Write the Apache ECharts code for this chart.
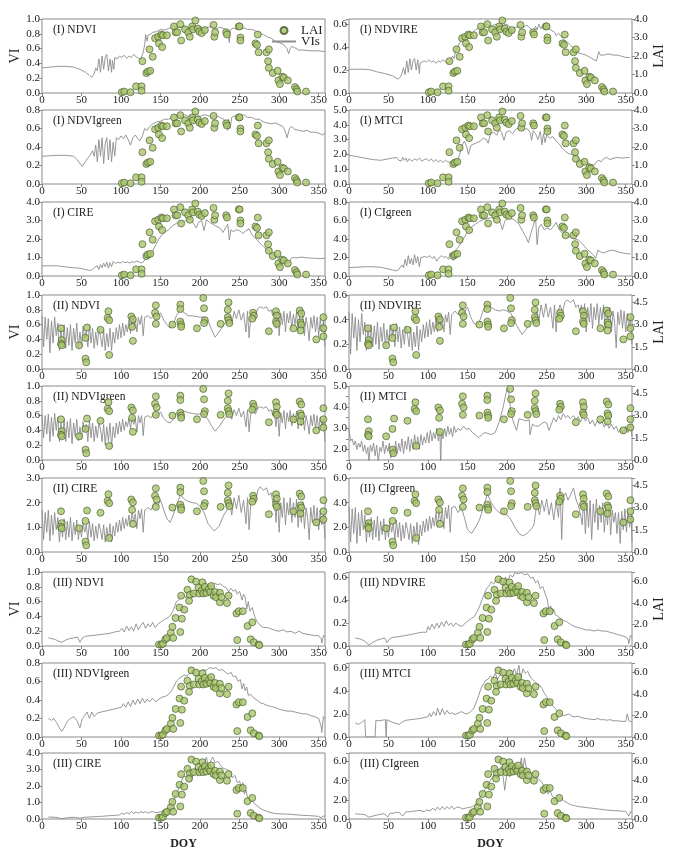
<!DOCTYPE html>
<html><head><meta charset="utf-8">
<script src="https://cdn.jsdelivr.net/npm/echarts@6/dist/echarts.min.js"></script>
<style>html,body{margin:0;padding:0;background:#fff}#c{width:673px;height:851px}</style>
</head><body><div id="c"></div>
<script>
// ---------- tick labels ----------
const doyTicks = [0, 50, 100, 150, 200, 250, 300, 350];

// ---------- LAI observations (site I, II, III) ----------
const LAI_I = [[101,0.04],[104,0.08],[112,0.04],[119,0.36],[126,0.36],[126,0.12],[127,1.72],[132,1.08],[134,1.16],[136,2.36],[137,1.2],[140,1.96],[143,2.96],[147,3.04],[148,2.68],[151,3.16],[153,3.12],[152,2.48],[158,3.12],[167,3.6],[169,3.28],[171,3.28],[175,3.72],[176,2.84],[181,3.44],[185,3.28],[187,3.04],[190,3.6],[191,3.44],[194,3.92],[197,3.48],[199,3.32],[202,3.24],[206,3.4],[217,3.68],[218,3.04],[219,3.28],[233,3.28],[234,3.16],[249,3.6],[250,3.6],[251,3.0],[251,2.84],[273,3.16],[270,2.68],[272,2.6],[274,2.2],[284,2.2],[287,2.36],[286,1.72],[287,1.36],[292,1.08],[298,1.2],[299,0.68],[301,0.48],[304,0.88],[306,0.84],[311,0.68],[320,0.32],[322,0.2],[323,0.08],[334,0.08]];
const LAI_II = [[24,2.75],[25,1.95],[24,1.7],[25,1.6],[47,1.6],[55,2.1],[57,2.8],[55,0.7],[56,0.45],[74,2.65],[84,3.9],[83,3.45],[85,3.3],[85,0.95],[113,3.55],[115,3.35],[114,2.85],[115,1.9],[144,4.3],[143,3.8],[145,3.55],[144,3.05],[165,3.0],[175,4.35],[175,4.05],[175,3.2],[176,3.0],[176,2.85],[196,2.75],[204,4.8],[205,4.1],[206,3.3],[205,3.1],[226,3.05],[236,4.5],[235,4.0],[235,3.5],[236,3.3],[237,3.1],[267,3.8],[268,3.6],[266,3.4],[287,2.55],[296,3.9],[297,3.6],[296,3.2],[297,3.05],[326,3.95],[328,3.75],[327,3.15],[328,3.0],[327,2.6],[318,2.75],[347,2.0],[356,3.5],[356,2.75],[356,2.2]];
const LAI_III = [[148,0.14],[151,0.14],[153,0.21],[156,0.62],[158,0.75],[163,1.23],[166,0.75],[165,1.78],[169,2.6],[175,1.3],[177,2.53],[174,3.56],[180,3.36],[176,4.66],[184,5.21],[187,4.73],[186,4.18],[189,6.17],[192,4.86],[195,5.96],[198,5.41],[199,4.86],[203,5.89],[202,5.14],[204,4.86],[206,5.48],[208,4.93],[211,5.27],[213,5.0],[214,5.55],[217,4.66],[219,5.0],[220,4.52],[225,4.93],[225,4.04],[227,4.52],[236,4.66],[234,3.97],[246,3.01],[249,3.22],[254,3.22],[247,0.55],[260,1.85],[266,2.19],[264,0.62],[268,0.34],[274,0.14],[275,0.07]];

// ---------- VI time series ----------
const I_NDVI = [[0,0.34],[10,0.35],[20,0.36],[30,0.36],[40,0.35],[48,0.32],[55,0.28],[60,0.24],[63,0.21],[66,0.26],[68,0.34],[70,0.30],[72,0.46],[74,0.28],[76,0.50],[78,0.32],[80,0.48],[82,0.52],[84,0.30],[86,0.46],[88,0.28],[89,0.44],[91,0.32],[92,0.48],[95,0.46],[98,0.50],[101,0.48],[104,0.51],[107,0.47],[110,0.50],[113,0.48],[116,0.52],[119,0.49],[122,0.47],[125,0.46],[128,0.55],[130,0.66],[131,0.79],[133,0.70],[134,0.78],[137,0.79],[140,0.82],[145,0.83],[150,0.86],[155,0.85],[160,0.87],[165,0.89],[170,0.90],[175,0.88],[180,0.90],[185,0.87],[190,0.90],[195,0.88],[200,0.90],[205,0.87],[210,0.89],[215,0.90],[220,0.86],[225,0.89],[230,0.87],[234,0.85],[236,0.76],[237,0.68],[238,0.85],[242,0.88],[246,0.86],[250,0.90],[255,0.88],[260,0.86],[265,0.86],[270,0.84],[275,0.81],[280,0.79],[285,0.76],[290,0.74],[295,0.70],[300,0.68],[305,0.66],[310,0.60],[312,0.53],[314,0.60],[316,0.63],[320,0.61],[325,0.58],[330,0.58],[340,0.57],[350,0.57],[358,0.56]];
const I_NDVIgreen = [[0,0.3],[10,0.305],[20,0.31],[30,0.31],[40,0.3],[45,0.26],[48,0.22],[51,0.19],[54,0.23],[57,0.27],[60,0.3],[62,0.28],[64,0.36],[66,0.3],[68,0.42],[70,0.24],[72,0.48],[74,0.3],[76,0.5],[78,0.22],[80,0.44],[82,0.5],[84,0.26],[86,0.48],[88,0.24],[90,0.45],[92,0.3],[94,0.5],[97,0.48],[100,0.52],[103,0.49],[106,0.53],[109,0.48],[112,0.42],[115,0.5],[118,0.53],[121,0.49],[124,0.47],[127,0.52],[130,0.6],[133,0.58],[136,0.62],[140,0.65],[145,0.67],[150,0.68],[155,0.7],[160,0.7],[165,0.72],[170,0.74],[175,0.73],[180,0.75],[185,0.73],[190,0.74],[195,0.75],[200,0.73],[205,0.75],[210,0.74],[215,0.72],[220,0.74],[225,0.72],[230,0.7],[233,0.66],[235,0.58],[236,0.7],[238,0.6],[240,0.72],[245,0.74],[250,0.72],[255,0.75],[260,0.72],[265,0.72],[270,0.7],[275,0.7],[280,0.67],[285,0.66],[290,0.65],[295,0.66],[300,0.64],[305,0.62],[308,0.56],[310,0.5],[313,0.6],[316,0.62],[320,0.59],[325,0.58],[330,0.57],[335,0.58],[340,0.56],[345,0.56],[350,0.55],[355,0.53],[358,0.55]];
const I_CIRE = [[0,0.55],[10,0.55],[20,0.55],[28,0.5],[38,0.45],[48,0.42],[55,0.35],[60,0.3],[63,0.33],[66,0.45],[68,0.38],[70,0.55],[72,0.35],[74,0.62],[76,0.45],[78,0.7],[80,0.5],[82,0.75],[84,0.42],[86,0.72],[88,0.5],[90,0.78],[93,0.68],[96,0.74],[99,0.7],[102,0.78],[105,0.72],[108,0.76],[111,0.7],[114,0.78],[117,0.74],[120,0.8],[123,0.76],[126,0.7],[129,0.8],[131,0.98],[133,0.9],[136,1.1],[140,1.35],[144,1.7],[148,2.0],[151,2.2],[155,2.35],[160,2.5],[165,2.7],[170,2.85],[175,2.9],[180,2.95],[185,3.05],[188,3.1],[192,2.8],[195,2.6],[198,2.9],[202,3.0],[205,2.45],[208,3.05],[212,2.9],[216,2.8],[220,2.7],[225,2.6],[229,2.35],[232,2.6],[235,2.8],[237,1.95],[239,2.5],[242,2.4],[246,2.5],[250,2.45],[254,2.3],[258,2.45],[262,2.55],[266,2.2],[270,2.05],[275,1.8],[280,1.6],[285,1.4],[290,1.2],[295,1.05],[300,0.9],[305,0.88],[308,0.82],[312,0.7],[315,0.95],[318,1.0],[322,0.98],[328,1.02],[335,0.98],[340,0.97],[345,0.96],[350,0.95],[358,0.95]];
const I_NDVIRE = [[0,0.207],[10,0.207],[20,0.207],[28,0.2],[35,0.185],[45,0.17],[55,0.15],[62,0.12],[65,0.14],[67,0.17],[69,0.22],[71,0.16],[73,0.28],[75,0.18],[77,0.3],[79,0.2],[81,0.28],[83,0.3],[85,0.2],[87,0.29],[89,0.17],[90,0.26],[92,0.25],[95,0.28],[98,0.27],[101,0.29],[104,0.27],[107,0.28],[110,0.26],[113,0.28],[116,0.27],[119,0.29],[122,0.27],[125,0.26],[128,0.28],[131,0.32],[133,0.3],[135,0.37],[138,0.41],[141,0.45],[145,0.48],[150,0.5],[155,0.52],[160,0.55],[165,0.57],[170,0.58],[175,0.6],[180,0.58],[185,0.6],[190,0.57],[195,0.59],[200,0.6],[205,0.56],[207,0.52],[209,0.57],[215,0.58],[220,0.57],[225,0.59],[230,0.56],[233,0.53],[236,0.58],[238,0.55],[240,0.6],[243,0.56],[246,0.6],[250,0.57],[255,0.55],[260,0.53],[262,0.5],[265,0.52],[270,0.48],[275,0.45],[280,0.42],[285,0.38],[290,0.35],[295,0.34],[300,0.33],[305,0.31],[310,0.29],[313,0.28],[316,0.36],[318,0.33],[322,0.33],[328,0.34],[335,0.33],[340,0.33],[345,0.32],[350,0.31],[355,0.31]];
const I_MTCI = [[0,1.95],[10,1.85],[20,1.75],[30,1.65],[40,1.6],[48,1.68],[55,1.75],[60,1.8],[63,1.6],[66,1.55],[68,1.8],[70,1.6],[72,1.75],[74,1.5],[76,1.7],[78,1.8],[80,1.55],[83,1.7],[86,1.6],[89,1.75],[92,1.55],[95,1.65],[98,1.7],[101,1.55],[104,1.7],[107,1.5],[110,1.65],[113,1.5],[116,1.6],[119,1.45],[122,1.6],[125,1.5],[128,1.45],[131,1.6],[134,1.4],[137,1.5],[140,2.0],[143,2.6],[146,2.9],[149,2.5],[151,2.0],[154,2.6],[158,2.7],[162,2.8],[166,2.9],[170,3.1],[174,3.0],[176,2.75],[179,3.4],[183,3.5],[187,3.3],[190,3.7],[193,3.5],[196,2.95],[199,3.5],[203,3.6],[207,3.4],[211,3.7],[215,3.8],[220,3.65],[225,3.75],[229,3.5],[231,2.95],[233,3.6],[236,3.4],[239,3.0],[242,3.55],[244,2.65],[246,3.4],[248,2.8],[250,3.3],[254,3.1],[258,3.2],[262,2.9],[266,2.7],[270,2.4],[274,2.2],[278,2.05],[282,2.0],[286,1.9],[290,1.7],[295,1.55],[300,1.45],[305,1.35],[310,1.27],[313,1.5],[316,1.6],[319,1.5],[322,1.7],[326,1.8],[330,1.65],[335,1.75],[340,1.8],[345,1.75],[350,1.78],[355,1.8]];
const I_CIgreen = [[0,0.9],[10,0.95],[20,1.0],[30,1.0],[40,0.95],[48,0.8],[55,0.65],[60,0.55],[63,0.7],[65,0.8],[67,1.2],[69,0.9],[71,1.8],[73,1.1],[75,2.2],[77,1.3],[79,1.9],[81,1.2],[83,2.3],[85,1.4],[87,2.1],[89,1.0],[91,2.0],[93,1.8],[96,2.1],[99,2.0],[102,2.2],[105,1.9],[108,2.1],[111,1.6],[114,2.0],[117,2.2],[120,2.0],[123,2.1],[126,1.8],[128,2.5],[130,2.1],[132,1.7],[135,2.8],[138,3.1],[142,3.6],[146,4.2],[150,4.8],[155,5.3],[160,5.6],[165,5.9],[170,6.1],[175,6.2],[180,6.3],[185,6.2],[189,6.4],[192,5.6],[194,5.0],[197,5.9],[200,6.2],[203,6.5],[206,6.2],[210,6.0],[215,5.6],[220,4.8],[224,4.2],[227,3.6],[230,4.6],[233,5.4],[236,6.3],[238,3.4],[240,5.2],[243,5.6],[247,5.0],[251,5.2],[255,5.0],[259,5.4],[262,5.8],[266,5.0],[270,4.6],[275,4.4],[280,4.2],[285,4.0],[290,3.9],[295,3.5],[300,3.0],[305,2.6],[309,2.3],[312,1.9],[315,2.8],[318,2.6],[322,2.5],[328,2.7],[334,2.8],[340,2.6],[346,2.5],[352,2.4],[356,2.4]];

const II_NDVI = [[0,0.72],[2,0.3],[4,0.7],[6,0.4],[8,0.68],[10,0.22],[12,0.65],[14,0.35],[16,0.7],[18,0.45],[20,0.62],[22,0.25],[24,0.55],[26,0.3],[28,0.6],[30,0.28],[32,0.56],[34,0.32],[36,0.6],[38,0.25],[40,0.55],[42,0.35],[44,0.62],[46,0.28],[48,0.5],[50,0.3],[52,0.58],[54,0.4],[56,0.52],[58,0.3],[60,0.6],[62,0.35],[64,0.55],[66,0.28],[68,0.5],[70,0.32],[72,0.55],[74,0.45],[76,0.3],[78,0.52],[80,0.25],[82,0.48],[84,0.3],[86,0.55],[88,0.25],[90,0.5],[92,0.35],[94,0.56],[96,0.4],[98,0.6],[100,0.42],[102,0.62],[104,0.45],[106,0.6],[108,0.5],[110,0.66],[112,0.48],[114,0.7],[116,0.55],[118,0.68],[120,0.5],[122,0.7],[124,0.6],[126,0.72],[128,0.45],[130,0.7],[134,0.72],[138,0.68],[142,0.75],[146,0.7],[150,0.76],[154,0.66],[158,0.6],[162,0.55],[166,0.6],[170,0.72],[175,0.8],[180,0.76],[185,0.72],[190,0.72],[195,0.71],[200,0.7],[205,0.7],[210,0.65],[215,0.52],[219,0.43],[224,0.5],[230,0.6],[235,0.65],[238,0.72],[240,0.6],[243,0.78],[246,0.68],[249,0.8],[252,0.66],[255,0.76],[258,0.5],[260,0.78],[262,0.42],[264,0.7],[267,0.78],[270,0.72],[273,0.82],[276,0.84],[280,0.82],[284,0.84],[287,0.78],[290,0.8],[292,0.72],[294,0.78],[296,0.55],[298,0.8],[300,0.45],[302,0.76],[304,0.6],[306,0.78],[308,0.5],[310,0.75],[312,0.62],[314,0.78],[316,0.55],[318,0.74],[320,0.6],[322,0.77],[324,0.5],[326,0.72],[328,0.55],[330,0.75],[332,0.45],[334,0.7],[336,0.58],[338,0.38],[340,0.7],[342,0.55],[344,0.72],[346,0.5],[348,0.7],[350,0.45],[352,0.68],[354,0.5],[356,0.65],[358,0.3]];
const II_NDVIgreen = [[0,0.62],[2,0.3],[4,0.6],[6,0.35],[8,0.62],[10,0.25],[12,0.58],[14,0.32],[16,0.63],[18,0.4],[20,0.58],[22,0.25],[24,0.5],[26,0.3],[28,0.55],[30,0.25],[32,0.52],[34,0.3],[36,0.56],[38,0.22],[40,0.5],[42,0.32],[44,0.55],[46,0.26],[48,0.45],[50,0.28],[52,0.52],[54,0.38],[56,0.48],[58,0.25],[60,0.54],[62,0.3],[64,0.5],[66,0.25],[68,0.46],[70,0.3],[72,0.5],[74,0.42],[76,0.25],[78,0.48],[80,0.2],[82,0.45],[84,0.25],[86,0.5],[88,0.18],[90,0.45],[92,0.3],[94,0.5],[96,0.35],[98,0.52],[100,0.38],[102,0.55],[104,0.4],[106,0.52],[108,0.45],[110,0.56],[112,0.42],[114,0.58],[116,0.48],[118,0.56],[120,0.38],[122,0.6],[124,0.5],[126,0.6],[128,0.33],[130,0.58],[134,0.6],[138,0.57],[142,0.63],[146,0.6],[150,0.65],[154,0.56],[158,0.52],[162,0.5],[166,0.55],[170,0.63],[175,0.68],[180,0.66],[185,0.64],[190,0.63],[195,0.62],[200,0.62],[205,0.6],[210,0.55],[215,0.45],[219,0.39],[224,0.45],[230,0.55],[235,0.6],[238,0.65],[240,0.55],[243,0.68],[246,0.6],[249,0.7],[252,0.58],[255,0.66],[258,0.45],[260,0.68],[262,0.38],[264,0.62],[267,0.68],[270,0.62],[273,0.7],[276,0.72],[280,0.7],[284,0.72],[287,0.66],[290,0.68],[292,0.6],[294,0.66],[296,0.45],[298,0.68],[300,0.32],[302,0.64],[304,0.5],[306,0.67],[308,0.42],[310,0.64],[312,0.52],[314,0.67],[316,0.46],[318,0.63],[320,0.5],[322,0.66],[324,0.42],[326,0.62],[328,0.46],[330,0.64],[332,0.4],[334,0.6],[336,0.5],[338,0.35],[340,0.6],[342,0.46],[344,0.62],[346,0.42],[348,0.6],[350,0.4],[352,0.58],[354,0.45],[356,0.56],[358,0.25]];
const II_CIRE = [[0,1.7],[2,0.5],[4,1.6],[6,0.8],[8,1.7],[10,0.45],[12,1.5],[14,0.7],[16,1.6],[18,0.9],[20,1.4],[22,0.4],[24,1.2],[26,0.6],[28,1.35],[30,0.5],[32,1.25],[34,0.6],[36,1.4],[38,0.45],[40,1.2],[42,0.7],[44,1.3],[46,0.5],[48,1.05],[50,0.6],[52,1.2],[54,0.8],[56,1.1],[58,0.5],[60,1.25],[62,0.6],[64,1.15],[66,0.45],[68,1.05],[70,0.55],[72,1.15],[74,0.9],[76,0.5],[78,1.1],[80,0.4],[82,1.0],[84,0.5],[86,1.15],[88,0.4],[90,1.05],[92,0.65],[94,1.2],[96,0.8],[98,1.3],[100,0.85],[102,1.4],[104,0.95],[106,1.35],[108,1.05],[110,1.5],[112,1.05],[114,1.6],[116,1.2],[118,1.55],[120,0.95],[122,1.7],[124,1.35],[126,1.75],[128,0.8],[130,1.7],[134,1.8],[138,1.7],[142,2.0],[146,1.85],[150,2.1],[154,1.7],[158,1.35],[162,1.2],[166,1.5],[170,1.9],[175,2.3],[180,2.15],[185,2.05],[190,2.0],[195,1.98],[200,1.85],[205,1.6],[210,1.15],[215,0.95],[218,0.85],[224,1.05],[230,1.5],[235,1.75],[238,2.0],[240,1.5],[243,2.2],[246,1.75],[249,2.3],[252,1.6],[255,2.1],[258,1.15],[260,2.2],[262,0.9],[264,1.9],[267,2.3],[270,2.0],[273,2.5],[276,2.65],[280,2.5],[284,2.6],[287,2.3],[290,2.4],[292,2.0],[294,2.2],[296,1.2],[298,2.3],[300,0.8],[302,2.0],[304,1.4],[306,2.2],[308,1.1],[310,2.0],[312,1.5],[314,2.2],[316,1.2],[318,2.0],[320,1.4],[322,2.15],[324,1.0],[326,1.9],[328,1.2],[330,2.05],[332,0.95],[334,1.8],[336,1.4],[338,0.5],[340,1.8],[342,1.2],[344,1.9],[346,1.1],[348,1.8],[350,0.9],[352,1.7],[354,1.1],[356,1.5],[358,0.55]];
const II_NDVIRE = [[0,0.46],[2,0.12],[4,0.45],[6,0.25],[8,0.42],[10,0.15],[12,0.4],[14,0.22],[16,0.45],[18,0.28],[20,0.38],[22,0.15],[24,0.34],[26,0.2],[28,0.36],[30,0.18],[32,0.35],[34,0.2],[36,0.38],[38,0.16],[40,0.34],[42,0.22],[44,0.37],[46,0.18],[48,0.32],[50,0.2],[52,0.36],[54,0.25],[56,0.33],[58,0.18],[60,0.37],[62,0.22],[64,0.34],[66,0.17],[68,0.32],[70,0.2],[72,0.35],[74,0.28],[76,0.18],[78,0.34],[80,0.15],[82,0.3],[84,0.18],[86,0.35],[88,0.15],[90,0.32],[92,0.22],[94,0.36],[96,0.25],[98,0.38],[100,0.26],[102,0.4],[104,0.28],[106,0.38],[108,0.3],[110,0.42],[112,0.3],[114,0.44],[116,0.35],[118,0.42],[120,0.3],[122,0.44],[124,0.38],[126,0.46],[128,0.28],[130,0.44],[134,0.47],[138,0.44],[142,0.5],[146,0.46],[150,0.5],[154,0.42],[158,0.37],[162,0.36],[166,0.4],[170,0.48],[175,0.53],[180,0.5],[185,0.48],[190,0.47],[195,0.48],[200,0.47],[205,0.45],[210,0.38],[215,0.32],[219,0.28],[224,0.32],[230,0.38],[235,0.42],[238,0.47],[240,0.38],[243,0.52],[246,0.42],[249,0.53],[252,0.42],[255,0.5],[258,0.33],[260,0.52],[262,0.3],[264,0.46],[267,0.52],[270,0.46],[273,0.54],[276,0.56],[280,0.54],[284,0.56],[287,0.5],[290,0.52],[292,0.46],[294,0.52],[296,0.36],[298,0.53],[300,0.3],[302,0.5],[304,0.38],[306,0.53],[308,0.33],[310,0.5],[312,0.4],[314,0.53],[316,0.36],[318,0.5],[320,0.4],[322,0.52],[324,0.32],[326,0.48],[328,0.36],[330,0.5],[332,0.3],[334,0.47],[336,0.38],[338,0.17],[340,0.46],[342,0.36],[344,0.48],[346,0.33],[348,0.47],[350,0.3],[352,0.45],[354,0.33],[356,0.42],[358,0.2]];
const II_MTCI = [[0,3.0],[2,2.4],[4,2.5],[6,2.2],[8,2.4],[10,2.0],[12,2.3],[14,2.1],[16,2.4],[18,1.9],[20,2.2],[22,1.8],[24,2.1],[25,1.3],[27,2.2],[29,1.9],[31,2.3],[33,1.7],[35,2.2],[37,1.4],[39,2.1],[41,1.9],[43,2.4],[45,1.8],[47,2.2],[49,1.9],[51,2.3],[53,1.6],[55,2.1],[57,1.7],[59,2.4],[61,1.8],[63,2.3],[65,1.9],[67,2.5],[69,1.8],[71,2.4],[73,2.0],[75,2.6],[77,1.9],[79,2.5],[81,2.0],[83,2.7],[85,2.1],[87,2.6],[89,2.0],[91,2.7],[93,2.2],[95,2.6],[97,2.3],[99,2.8],[101,2.3],[103,2.9],[105,2.4],[107,2.8],[109,2.5],[111,3.0],[113,2.4],[115,2.9],[116,1.2],[117,2.8],[119,2.5],[121,3.0],[123,2.6],[125,3.1],[127,2.7],[129,3.0],[131,2.6],[133,3.1],[135,2.8],[138,3.0],[141,2.9],[145,3.1],[148,2.95],[152,3.0],[156,2.8],[160,2.7],[164,2.55],[168,2.7],[172,2.8],[176,2.75],[180,2.7],[185,2.8],[190,3.3],[195,4.0],[200,4.9],[202,4.7],[205,3.7],[208,3.3],[212,2.9],[215,3.45],[220,3.4],[224,3.35],[228,3.4],[229,2.7],[232,3.2],[236,3.1],[240,3.1],[243,3.2],[247,3.3],[250,3.25],[253,2.9],[256,3.2],[259,3.5],[262,3.3],[265,3.6],[268,3.4],[271,3.7],[274,3.5],[277,3.6],[280,3.45],[284,3.6],[287,3.4],[290,3.55],[293,3.3],[296,3.6],[299,3.35],[302,3.5],[305,3.2],[308,3.4],[311,3.1],[314,3.35],[317,3.2],[320,3.3],[323,3.05],[326,3.3],[329,3.0],[332,3.2],[335,2.95],[338,3.1],[341,2.8],[344,3.0],[347,2.75],[350,3.1],[353,2.8],[356,3.2],[358,2.6]];
const II_CIgreen = [[0,3.7],[2,0.8],[4,3.5],[6,1.5],[8,3.6],[10,0.7],[12,3.2],[14,1.3],[16,3.4],[18,1.8],[20,3.0],[22,0.8],[24,2.6],[26,1.2],[28,2.8],[30,1.0],[32,2.6],[34,1.2],[36,2.9],[38,0.9],[40,2.5],[42,1.4],[44,2.7],[46,1.0],[48,2.2],[50,1.2],[52,2.5],[54,1.6],[56,2.3],[58,1.0],[60,2.6],[62,1.2],[64,2.4],[66,0.9],[68,2.2],[70,1.1],[72,2.4],[74,1.8],[76,1.0],[78,2.3],[80,0.7],[82,2.1],[84,1.0],[86,2.4],[88,0.6],[90,2.2],[92,1.3],[94,2.5],[96,1.6],[98,2.7],[100,1.7],[102,2.9],[104,1.9],[106,2.8],[108,2.1],[110,3.2],[112,2.0],[114,3.4],[116,2.4],[118,3.3],[120,1.9],[122,3.6],[124,2.7],[126,3.8],[128,1.6],[130,3.6],[134,3.7],[138,3.2],[142,3.6],[146,2.8],[150,1.8],[155,1.5],[160,2.0],[165,2.6],[170,3.6],[175,4.7],[180,4.0],[185,3.5],[190,3.2],[195,3.1],[200,3.0],[205,2.6],[210,2.0],[215,1.5],[220,1.3],[225,1.5],[230,1.8],[234,2.2],[236,3.2],[238,4.0],[241,3.0],[244,4.2],[247,3.3],[250,4.3],[253,3.0],[256,4.0],[259,2.6],[262,4.1],[265,2.8],[267,5.2],[269,1.0],[271,4.4],[274,4.8],[277,4.2],[280,4.6],[284,5.2],[287,4.3],[290,3.8],[293,3.0],[295,2.2],[297,4.4],[299,1.5],[301,4.0],[303,2.0],[305,4.2],[307,1.0],[309,3.9],[311,2.4],[313,4.3],[315,1.8],[317,3.8],[319,2.4],[321,4.0],[323,1.6],[325,3.6],[327,2.2],[329,4.0],[331,1.4],[333,3.4],[335,2.4],[337,3.2],[339,1.5],[341,3.2],[343,0.7],[345,3.3],[347,1.8],[349,3.5],[351,1.6],[353,3.4],[355,2.0],[357,3.0],[358,0.8]];

const III_NDVI = [[8,0.11],[12,0.1],[16,0.09],[20,0.07],[25,0.05],[30,0.08],[35,0.1],[40,0.11],[45,0.12],[48,0.05],[51,0.11],[55,0.13],[62,0.14],[70,0.15],[78,0.16],[85,0.17],[92,0.19],[98,0.2],[101,0.24],[104,0.19],[107,0.27],[110,0.21],[113,0.26],[116,0.2],[119,0.3],[122,0.22],[125,0.28],[128,0.32],[131,0.24],[134,0.3],[137,0.26],[140,0.32],[143,0.25],[147,0.3],[151,0.33],[155,0.36],[159,0.38],[163,0.42],[166,0.48],[168,0.46],[170,0.6],[173,0.62],[176,0.67],[179,0.7],[182,0.65],[185,0.72],[188,0.7],[191,0.74],[194,0.69],[197,0.76],[200,0.73],[203,0.78],[206,0.76],[210,0.8],[214,0.82],[218,0.85],[222,0.83],[226,0.84],[230,0.8],[233,0.79],[236,0.73],[239,0.78],[242,0.74],[245,0.76],[247,0.7],[250,0.74],[253,0.62],[255,0.7],[257,0.66],[259,0.5],[261,0.6],[263,0.47],[266,0.52],[269,0.4],[272,0.33],[276,0.28],[280,0.25],[285,0.25],[290,0.23],[295,0.21],[300,0.2],[305,0.22],[310,0.19],[315,0.2],[320,0.17],[325,0.2],[330,0.17],[335,0.16],[340,0.15],[345,0.14],[350,0.14],[353,0.1],[354,0.04],[356,0.14],[358,0.13]];
const III_NDVIgreen = [[8,0.2],[12,0.18],[15,0.2],[18,0.16],[22,0.1],[25,0.06],[28,0.1],[32,0.17],[36,0.2],[40,0.22],[44,0.18],[48,0.1],[51,0.2],[54,0.23],[57,0.27],[60,0.2],[63,0.27],[66,0.22],[70,0.26],[75,0.27],[80,0.28],[85,0.29],[90,0.3],[95,0.31],[100,0.32],[103,0.36],[106,0.32],[109,0.38],[112,0.33],[115,0.4],[118,0.35],[121,0.41],[124,0.36],[127,0.42],[130,0.37],[133,0.41],[136,0.38],[140,0.42],[144,0.38],[148,0.41],[152,0.43],[156,0.44],[160,0.46],[164,0.5],[167,0.55],[170,0.6],[173,0.63],[176,0.65],[180,0.67],[184,0.66],[188,0.7],[192,0.68],[196,0.71],[200,0.7],[204,0.73],[208,0.72],[212,0.75],[216,0.74],[220,0.75],[224,0.72],[228,0.73],[232,0.7],[236,0.68],[239,0.7],[242,0.65],[245,0.66],[248,0.6],[251,0.62],[253,0.52],[255,0.58],[257,0.5],[259,0.54],[261,0.45],[264,0.46],[268,0.42],[272,0.4],[276,0.37],[280,0.36],[285,0.34],[290,0.33],[295,0.32],[300,0.3],[305,0.29],[310,0.28],[315,0.28],[320,0.27],[325,0.26],[330,0.25],[335,0.25],[340,0.23],[345,0.22],[350,0.2],[353,0.12],[354,0.05],[356,0.22],[358,0.2]];
const III_CIRE = [[8,0.12],[15,0.11],[20,0.08],[25,0.02],[30,0.06],[35,0.1],[42,0.1],[48,0.05],[52,0.1],[60,0.12],[70,0.15],[78,0.17],[85,0.2],[92,0.22],[98,0.25],[101,0.35],[104,0.28],[107,0.4],[110,0.3],[113,0.45],[116,0.33],[119,0.42],[122,0.35],[125,0.45],[128,0.38],[131,0.45],[134,0.35],[137,0.42],[140,0.45],[144,0.38],[148,0.42],[152,0.45],[156,0.5],[160,0.6],[163,0.8],[166,1.05],[169,1.4],[172,1.75],[175,2.05],[178,2.5],[181,2.6],[184,2.45],[187,3.0],[189,2.3],[191,2.7],[194,3.1],[197,2.6],[200,3.2],[203,3.3],[206,3.5],[208,3.75],[211,3.1],[214,3.6],[216,3.75],[219,3.4],[222,3.5],[226,3.25],[230,3.05],[234,3.0],[238,2.85],[241,2.5],[244,2.65],[247,2.2],[250,2.3],[252,1.9],[254,2.2],[256,1.5],[258,1.75],[260,1.3],[262,1.4],[265,1.1],[268,1.0],[272,0.8],[276,0.65],[280,0.55],[285,0.45],[290,0.38],[295,0.33],[300,0.32],[305,0.3],[310,0.3],[315,0.28],[320,0.26],[325,0.24],[330,0.22],[335,0.21],[340,0.2],[345,0.18],[350,0.16],[353,0.08],[354,0.02],[356,0.18],[358,0.17]];
const III_NDVIRE = [[8,0.07],[15,0.06],[20,0.04],[25,0.01],[30,0.03],[35,0.05],[40,0.06],[45,0.07],[48,0.03],[51,0.06],[55,0.075],[62,0.08],[70,0.09],[78,0.1],[85,0.11],[92,0.12],[98,0.12],[100,0.17],[102,0.14],[105,0.19],[108,0.15],[111,0.2],[114,0.16],[117,0.21],[120,0.17],[123,0.22],[126,0.18],[129,0.2],[132,0.17],[135,0.2],[139,0.18],[143,0.17],[147,0.2],[151,0.22],[155,0.24],[159,0.26],[162,0.3],[165,0.34],[168,0.4],[171,0.45],[174,0.5],[177,0.52],[180,0.56],[183,0.54],[186,0.58],[189,0.55],[192,0.6],[195,0.53],[198,0.6],[201,0.57],[204,0.62],[207,0.6],[210,0.64],[214,0.63],[218,0.64],[222,0.62],[226,0.63],[230,0.59],[233,0.6],[236,0.55],[239,0.57],[242,0.5],[245,0.52],[248,0.46],[251,0.4],[253,0.3],[255,0.35],[257,0.29],[259,0.32],[261,0.27],[264,0.26],[268,0.24],[272,0.22],[276,0.21],[280,0.19],[285,0.17],[290,0.16],[295,0.15],[300,0.14],[305,0.14],[310,0.13],[315,0.14],[320,0.13],[325,0.13],[330,0.12],[335,0.11],[340,0.1],[345,0.09],[350,0.08],[353,0.06],[354,0.02],[356,0.09],[358,0.085]];
const III_MTCI = [[8,1.2],[12,1.1],[16,1.25],[20,1.5],[21,0],[33,0],[34,1.45],[38,1.4],[42,1.45],[46,1.5],[47,0],[48,1.5],[52,1.35],[58,1.2],[64,1.1],[67,1.3],[72,1.45],[78,1.5],[84,1.55],[90,1.6],[96,1.7],[100,1.75],[102,2.05],[104,1.75],[107,2.2],[110,1.85],[112,2.5],[115,1.9],[118,2.45],[121,1.95],[124,2.3],[127,2.0],[130,2.1],[134,1.95],[138,2.05],[142,2.2],[146,2.05],[150,2.0],[154,2.2],[158,2.5],[161,3.0],[164,3.6],[167,4.2],[170,4.6],[173,4.9],[176,5.0],[179,5.3],[182,5.1],[185,5.5],[188,5.0],[191,5.4],[194,5.6],[197,4.9],[200,5.5],[203,5.8],[206,5.2],[209,5.9],[212,5.4],[215,6.2],[217,5.0],[220,5.9],[223,5.5],[226,5.7],[229,5.2],[232,5.0],[235,4.8],[238,4.6],[241,4.5],[244,4.2],[247,3.8],[250,3.5],[253,3.1],[256,2.9],[259,2.6],[262,2.4],[265,2.2],[268,2.0],[271,1.85],[274,1.9],[278,2.0],[282,1.8],[286,1.75],[290,1.8],[295,1.65],[300,1.6],[305,1.55],[310,1.5],[315,1.6],[318,1.5],[322,1.5],[326,1.45],[330,1.5],[335,1.4],[340,1.4],[345,1.35],[350,1.35],[352,2.0],[354,1.4],[358,1.3]];
const III_CIgreen = [[8,0.55],[12,0.5],[16,0.5],[20,0.45],[25,0.2],[30,0.3],[35,0.4],[40,0.5],[45,0.55],[49,0.2],[52,0.6],[56,0.6],[60,0.7],[64,0.65],[68,0.3],[72,0.75],[76,0.75],[80,0.8],[85,0.85],[90,0.9],[95,0.75],[98,0.95],[100,1.1],[103,0.85],[106,1.15],[109,0.9],[112,1.25],[115,0.95],[118,1.3],[121,1.0],[124,1.3],[127,1.05],[130,1.35],[133,1.0],[136,1.25],[140,1.2],[144,1.05],[148,1.15],[152,1.2],[156,1.3],[160,1.5],[163,1.9],[166,2.3],[169,2.7],[172,3.1],[175,3.5],[178,3.9],[181,4.3],[184,4.7],[187,4.2],[190,5.2],[193,5.5],[195,4.4],[197,3.0],[198,2.8],[200,5.0],[203,4.4],[206,5.5],[209,4.6],[212,5.6],[215,4.8],[218,6.4],[220,5.1],[222,6.4],[225,5.0],[228,4.9],[232,4.8],[236,4.5],[240,4.2],[244,3.8],[247,3.4],[250,3.2],[252,2.6],[254,3.0],[257,2.4],[260,2.2],[264,2.05],[268,2.2],[272,1.9],[276,1.7],[280,1.5],[285,1.4],[290,1.3],[295,1.25],[300,1.2],[305,1.15],[310,1.1],[315,1.05],[320,1.0],[325,0.95],[330,0.9],[335,0.88],[340,0.85],[345,0.82],[350,0.8],[354,0.3],[356,0.75],[358,0.7]];

// ---------- panel definitions ----------
const siteLAI = { I: LAI_I, II: LAI_II, III: LAI_III };
const siteRight = { I: {max: 4, int: 1}, II: {max: 5, int: 1.5}, III: {max: 6.85, int: 2} };
const panels = [
  {label:'(I) NDVI',        site:'I',   line:I_NDVI,        min:0,   max:1,     int:0.2, step:0.2},
  {label:'(I) NDVIRE',      site:'I',   line:I_NDVIRE,      min:0,   max:0.645, int:0.2, step:0.2},
  {label:'(I) NDVIgreen',   site:'I',   line:I_NDVIgreen,   min:0,   max:0.8,   int:0.2, step:0.2},
  {label:'(I) MTCI',        site:'I',   line:I_MTCI,        min:0,   max:5,     int:1,   step:1},
  {label:'(I) CIRE',        site:'I',   line:I_CIRE,        min:0,   max:4,     int:1,   step:1},
  {label:'(I) CIgreen',     site:'I',   line:I_CIgreen,     min:0,   max:8,     int:2,   step:2},
  {label:'(II) NDVI',       site:'II',  line:II_NDVI,       min:0,   max:1,     int:0.2, step:0.2},
  {label:'(II) NDVIRE',     site:'II',  line:II_NDVIRE,     min:0,   max:0.6,   int:0.2, step:0.2},
  {label:'(II) NDVIgreen',  site:'II',  line:II_NDVIgreen,  min:0,   max:1,     int:0.2, step:0.2},
  {label:'(II) MTCI',       site:'II',  line:II_MTCI,       min:1.5, max:5,     int:0.5, step:1},
  {label:'(II) CIRE',       site:'II',  line:II_CIRE,       min:0,   max:3,     int:1,   step:1},
  {label:'(II) CIgreen',    site:'II',  line:II_CIgreen,    min:0,   max:6,     int:2,   step:2},
  {label:'(III) NDVI',      site:'III', line:III_NDVI,      min:0,   max:1,     int:0.2, step:0.2},
  {label:'(III) NDVIRE',    site:'III', line:III_NDVIRE,    min:0,   max:0.645, int:0.2, step:0.2},
  {label:'(III) NDVIgreen', site:'III', line:III_NDVIgreen, min:0,   max:0.8,   int:0.2, step:0.2},
  {label:'(III) MTCI',      site:'III', line:III_MTCI,      min:0,   max:6.4,   int:2,   step:2},
  {label:'(III) CIRE',      site:'III', line:III_CIRE,      min:0,   max:4,     int:1,   step:1},
  {label:'(III) CIgreen',   site:'III', line:III_CIgreen,   min:0,   max:6.9,   int:2,   step:2}
];

// ---------- layout ----------
const FONT = "'Liberation Serif','DejaVu Serif',serif";
const colLeft = [42, 349];
const colWidth = 283;
const rowTop = [19, 110, 202, 295, 386, 478, 572, 663, 753];
const rowH = 74;
const TICK_FS = 11;
const isMult = (v, s) => Math.abs(v / s - Math.round(v / s)) < 1e-6;

const grids = [], xAxes = [], yAxes = [], series = [], graphics = [];
panels.forEach((p, i) => {
  const col = i % 2, row = Math.floor(i / 2);
  const gl = colLeft[col], gt = rowTop[row];
  grids.push({left: gl, top: gt, width: colWidth, height: rowH, show: true, borderColor: '#8a8a8a', borderWidth: 1, containLabel: false});
  const bottomRow = row === 8;
  xAxes.push({
    type: 'value', gridIndex: i, min: 0, max: 358, interval: 50,
    axisLine: {show: false}, splitLine: {show: false},
    axisTick: {show: true, length: 3, lineStyle: {color: '#8a8a8a'}},
    axisLabel: {color: '#222', fontFamily: FONT, fontSize: TICK_FS, margin: 2,
      formatter: v => doyTicks.includes(v) ? String(v) : ''},
    name: bottomRow ? 'DOY' : '', nameLocation: 'middle', nameGap: 19,
    nameTextStyle: {fontFamily: FONT, fontSize: 12, fontWeight: 'bold', color: '#222'}
  });
  const showVI = col === 0 && (row === 0 || row === 3 || row === 6);
  yAxes.push({
    type: 'value', gridIndex: i, min: p.min, max: p.max, interval: p.int, position: 'left',
    axisLine: {show: false}, splitLine: {show: false},
    axisTick: {show: true, length: 3, lineStyle: {color: '#8a8a8a'}},
    axisLabel: {color: '#222', fontFamily: FONT, fontSize: TICK_FS, margin: 2,
      formatter: v => isMult(v, p.step) ? v.toFixed(1) : ''},
    name: showVI ? 'VI' : '', nameLocation: 'middle', nameGap: 12, nameRotate: 90,
    nameTextStyle: {fontFamily: FONT, fontSize: 14, color: '#222'}
  });
  const rs = siteRight[p.site];
  const showLAIname = col === 1 && (row === 0 || row === 3 || row === 6);
  yAxes.push({
    type: 'value', gridIndex: i, min: 0, max: rs.max, interval: rs.int, position: 'right',
    show: true,
    axisLine: {show: false}, splitLine: {show: false},
    axisTick: {show: col === 1, length: 3, lineStyle: {color: '#8a8a8a'}},
    axisLabel: {show: col === 1, color: '#222', fontFamily: FONT, fontSize: TICK_FS, margin: 2,
      formatter: v => isMult(v, rs.int) ? v.toFixed(1) : ''},
    name: showLAIname ? 'LAI' : '', nameLocation: 'middle', nameGap: 20, nameRotate: 90,
    nameTextStyle: {fontFamily: FONT, fontSize: 14, color: '#222'}
  });
  series.push({
    name: 'VIs', type: 'line', xAxisIndex: i, yAxisIndex: 2 * i, data: p.line,
    symbol: 'none', lineStyle: {color: '#8c8c8c', width: 0.9}, itemStyle: {color: '#8c8c8c'},
    z: 2, clip: true, silent: true
  });
  series.push({
    name: 'LAI', type: 'scatter', xAxisIndex: i, yAxisIndex: 2 * i + 1, data: siteLAI[p.site],
    symbol: 'circle', symbolSize: 7,
    itemStyle: {color: '#a7c56b', borderColor: '#44542a', borderWidth: 0.8},
    z: 3, clip: true, silent: true
  });
  graphics.push({type: 'text', left: gl + 11, top: gt + 5,
    style: {text: p.label, font: '11.5px ' + FONT, fill: '#222'}});
});

const chart = echarts.init(document.getElementById('c'), null, {renderer: 'canvas'});
chart.setOption({
  animation: false,
  backgroundColor: '#fff',
  grid: grids, xAxis: xAxes, yAxis: yAxes, series: series, graphic: graphics,
  legend: {
    orient: 'vertical', left: 266, top: 19, itemWidth: 24, itemHeight: 7, itemGap: -2,
    textStyle: {fontFamily: FONT, fontSize: 13, color: '#222', lineHeight: 12},
    data: [
      {name: 'LAI', icon: 'circle'},
      {name: 'VIs', itemStyle: {opacity: 0, borderWidth: 0, color: 'rgba(0,0,0,0)'}}
    ],
    selectedMode: false
  }
});
</script>
</body></html>
